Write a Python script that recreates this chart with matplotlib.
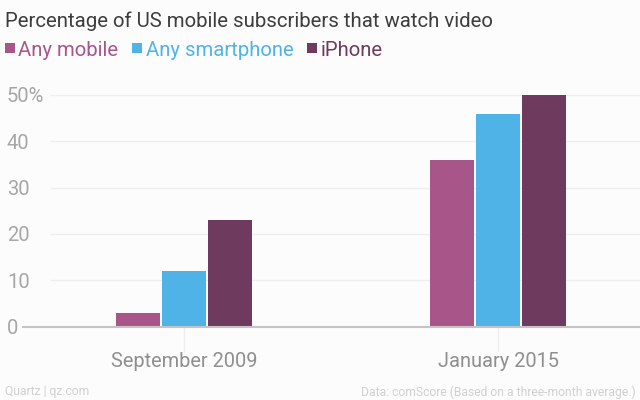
import matplotlib
matplotlib.use('Agg')
import numpy as np
import matplotlib.pyplot as plt

plt.rcParams['font.family'] = ['Roboto', 'DejaVu Sans']

categories = ['September 2009', 'January 2015']
series_names = ['Any mobile', 'Any smartphone', 'iPhone']
any_mobile = [3, 36]
any_smartphone = [12, 46]
iphone = [23, 50]
colors = ['#a85589', '#4fb3e8', '#6e3a5e']
y_ticks = [0, 10, 20, 30, 40, 50]
tick_labels = ['0', '10', '20', '30', '40', '50%']

W, H = 640, 400
bg = '#fcfcfc'
fig = plt.figure(figsize=(W / 100, H / 100), dpi=100, facecolor=bg)
# axes cover the full width, so x data is in pixels; y 50 at 95px, 0 at 326.5px
ax = fig.add_axes([0, (H - 326.5) / H, 1, (326.5 - 95) / H], facecolor='none')

x = np.array([184, 498])
width = 44
gap = 46
for i, vals in enumerate([any_mobile, any_smartphone, iphone]):
    ax.bar(x + (i - 1) * gap, vals, width, color=colors[i], linewidth=0, zorder=3)

ax.set_xlim(0, 640)
ax.set_ylim(0, 50)
for s in ax.spines.values():
    s.set_visible(False)

ax.hlines(y_ticks[1:], 50, 640, color='#eeeeee', lw=1, zorder=1)
ax.hlines(0, 22, 640, color='#c4c4c4', lw=1.5, zorder=4, clip_on=False)

ax.set_yticks(y_ticks, tick_labels, ha='left')
ax.tick_params(axis='y', length=0, pad=-5, labelsize=14.5, labelcolor='#a6a6a6')
ax.set_xticks(x, categories)
ax.tick_params(axis='x', length=18, width=1, color='#eeeeee', pad=0.5, labelsize=14.4, labelcolor='#8f8f8f')

fig.text(5 / W, (H - 21) / H, 'Percentage of US mobile subscribers that watch video',
         fontsize=14.7, color='#3d3d3d', va='center')

legend_x = [5, 132, 307]
for name, c, lx in zip(series_names, colors, legend_x):
    fig.patches.append(plt.Rectangle((lx / W, (H - 53) / H), 10 / W, 10 / H, transform=fig.transFigure, color=c, lw=0))
    fig.text((lx + 13.5) / W, (H - 50) / H, name, fontsize=14.6, color=c, va='center')

fig.text(5 / W, (H - 392) / H, 'Quartz | qz.com', fontsize=8.7, color='#d0d0d0', va='center')
fig.text(636 / W, (H - 392) / H, 'Data: comScore (Based on a three-month average.)', fontsize=8.7,
         color='#d0d0d0', va='center', ha='right')

fig.savefig('out.png', dpi=100, facecolor=bg)
